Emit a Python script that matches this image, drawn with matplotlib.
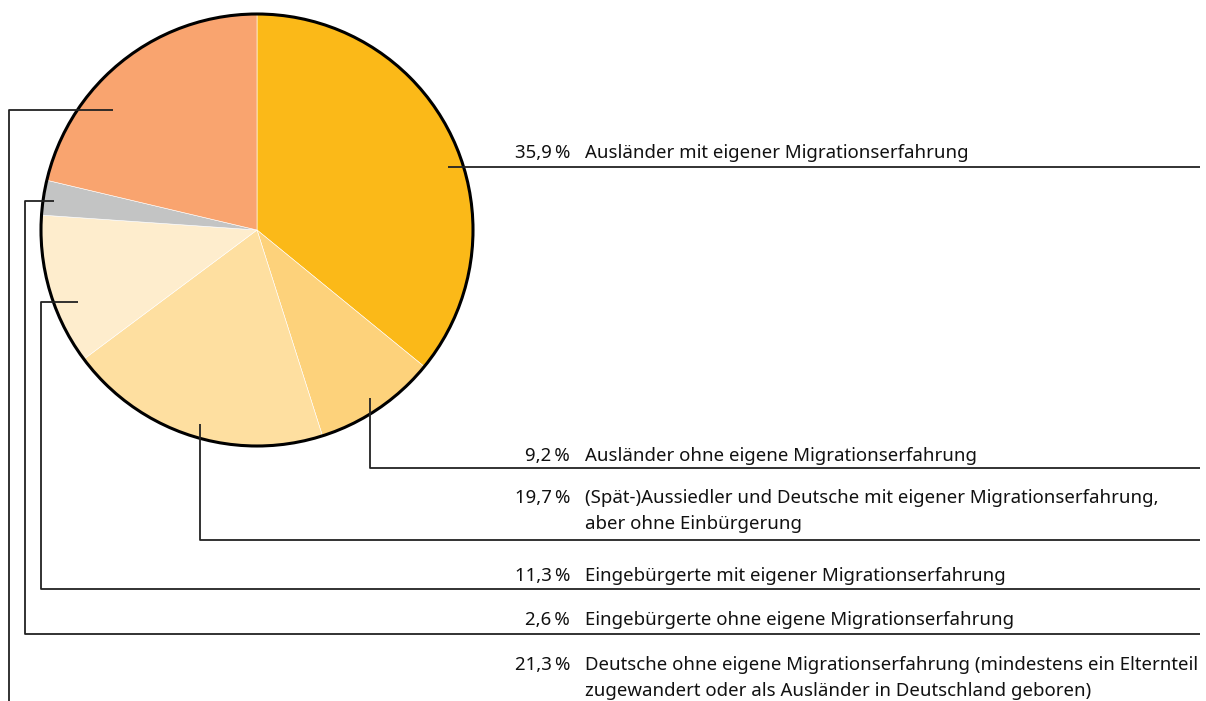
import matplotlib.pyplot as plt

# shares of the population with migration background
values = [35.9, 9.2, 19.7, 11.3, 2.6, 21.3]
pct_labels = ["35,9\u2009%", "9,2\u2009%", "19,7\u2009%", "11,3\u2009%", "2,6\u2009%", "21,3\u2009%"]
texts = [
    "Ausländer mit eigener Migrationserfahrung",
    "Ausländer ohne eigene Migrationserfahrung",
    "(Spät-)Aussiedler und Deutsche mit eigener Migrationserfahrung,\naber ohne Einbürgerung",
    "Eingebürgerte mit eigener Migrationserfahrung",
    "Eingebürgerte ohne eigene Migrationserfahrung",
    "Deutsche ohne eigene Migrationserfahrung (mindestens ein Elternteil\nzugewandert oder als Ausländer in Deutschland geboren)",
]
colors = ["#FBB918", "#FDD27B", "#FEDFA0", "#FEEDCD", "#C3C4C4", "#F9A46F"]

W, H = 1206, 701
plt.rcParams['font.family'] = ['Noto Sans', 'DejaVu Sans']

fig = plt.figure(figsize=(W / 100, H / 100), dpi=100)
ax = fig.add_axes([0, 0, 1, 1])

def fy(y):
    # pixel row -> data y
    return H - y

cx, cy, r = 257, 230, 216
ax.pie(values, colors=colors, startangle=90, counterclock=False,
       center=(cx, fy(cy)), radius=r, frame=True,
       wedgeprops=dict(edgecolor='white', linewidth=0.4))
ax.add_patch(plt.Circle((cx, fy(cy)), r, fill=False, edgecolor='black', linewidth=2.2))
ax.set_xlim(0, W)
ax.set_ylim(0, H)
ax.set_aspect('equal')
ax.axis('off')

# leader lines from the slices to the text rows
lc = '#222222'
lw = 1.3
leaders = [
    [(448, 167), (1200, 167)],
    [(370, 398), (370, 468), (1200, 468)],
    [(200, 424), (200, 540), (1200, 540)],
    [(78, 302), (41, 302), (41, 589), (1200, 589)],
    [(54, 201), (25, 201), (25, 634), (1200, 634)],
    [(113, 110), (9, 110), (9, 705)],
]
text_y = [153, 456, 498, 576, 620, 665]
fs = 13.4
tc = '#111111'

for pts, pct, txt, ty in zip(leaders, pct_labels, texts, text_y):
    xs = [p[0] for p in pts]
    ys = [fy(p[1]) for p in pts]
    ax.plot(xs, ys, color=lc, linewidth=lw, solid_capstyle='butt', clip_on=False)
    ax.text(570, fy(ty), pct, ha='right', va='center', fontsize=fs, color=tc)
    for i, line in enumerate(txt.split('\n')):
        ax.text(585, fy(ty + 26 * i), line, ha='left', va='center', fontsize=fs, color=tc)

fig.savefig('out.png', dpi=100)
